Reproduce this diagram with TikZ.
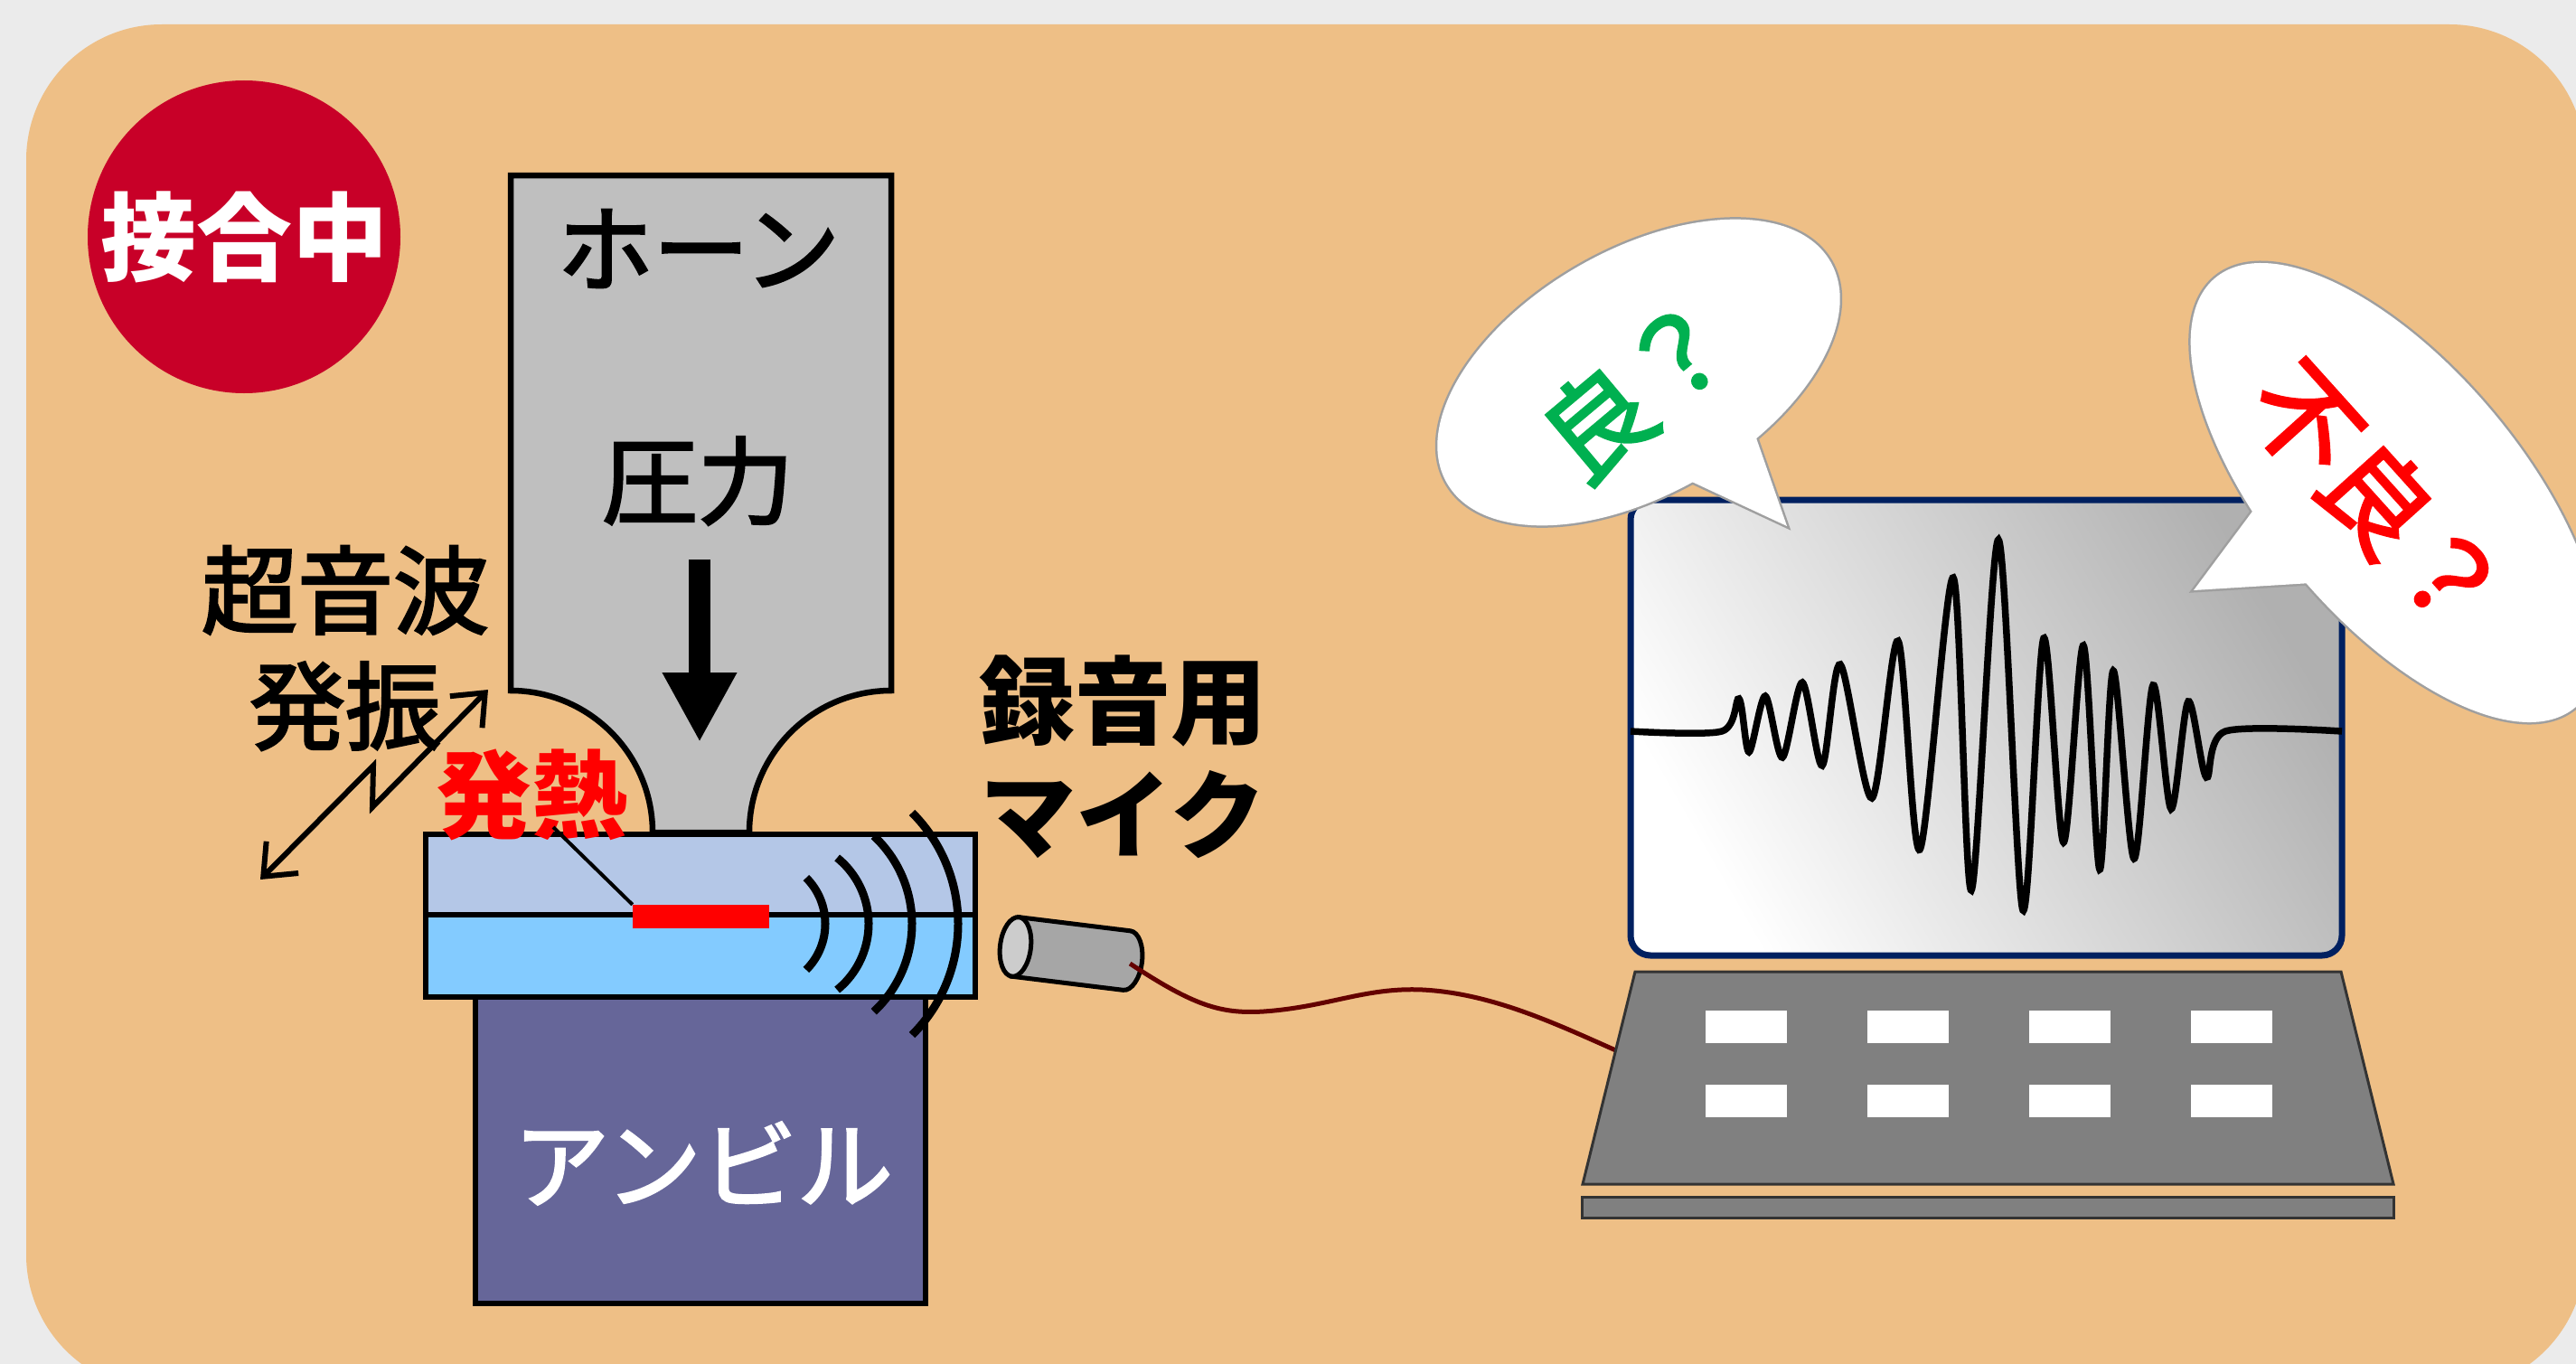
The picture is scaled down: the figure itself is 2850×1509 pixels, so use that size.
\documentclass[tikz,border=0pt]{standalone}
\usepackage{fontspec}
\setmainfont{Noto Sans CJK JP}
\newfontfamily\jpreg{Noto Sans CJK JP}[FakeBold=2.5]
\usetikzlibrary{arrows.meta, calc}
\definecolor{bggray}{RGB}{235,235,235}
\definecolor{panel}{RGB}{238,191,134}
\definecolor{badge}{RGB}{200,0,40}
\definecolor{horngray}{RGB}{191,191,191}
\definecolor{plateup}{RGB}{180,199,231}
\definecolor{platelow}{RGB}{131,203,255}
\definecolor{anvilblue}{RGB}{102,102,153}
\definecolor{navy}{RGB}{0,32,96}
\definecolor{kbgray}{RGB}{128,128,128}
\definecolor{cable}{RGB}{100,0,0}
\definecolor{okgreen}{RGB}{0,176,80}
\tikzset{
lbl/.style={inner sep=0pt, align=center, font=\jpreg\fontsize{106}{128}\selectfont}, % all big labels
boldlbl/.style={inner sep=0pt, align=center, font=\fontsize{106}{126}\selectfont\bfseries},
part/.style={draw=black, line width=6.5pt}, % horn, plates, anvil
soundwave/.style={line width=9pt},
bubble line/.style={draw=gray!75, line width=5pt},
bubble text/.style={inner sep=0pt, font=\jpreg\fontsize{118}{118}\selectfont},
}

\begin{document}
\begin{tikzpicture}[x=1pt, y=-1pt]
\useasboundingbox (0,0) rectangle (2850,1509);
\clip (0,0) rectangle (2850,1509);
\fill[bggray] (0,0) rectangle (2850,1509);
\fill[panel, rounded corners=150pt] (29,27) rectangle (2860,1538);

% badge
\node[boldlbl, circle, fill=badge, minimum size=346pt, text=white] (badge) at (270,262) {接合中};

% horn with its two concave flanks
\filldraw[part, fill=horngray] (565,194) -- (986,194) -- (986,764)
  arc[start angle=-90, end angle=-180, radius=157] -- (722,921)
  arc[start angle=0, end angle=-90, radius=157] -- cycle;
\node[lbl] (horn) at (773,275) {ホーン};
\node[lbl] (force) at (772,532) {圧力};
\coordinate (push top) at (774,619);
\coordinate (push tip) at (774,821);
\draw[line width=24pt, -{Triangle[width=77pt, length=77pt]}] (push top) -- (push tip);

% anvil
\filldraw[part, fill=anvilblue] (526,1103) rectangle (1024,1442);
\node[lbl, text=white] (anvil) at (778,1287) {アンビル};

% the two sheets being joined
\filldraw[part, fill=plateup] (471,923) rectangle (1079,1012);
\filldraw[part, fill=platelow] (471,1012) rectangle (1079,1103);
\node[fill=red, inner sep=0pt, minimum width=151pt, minimum height=26pt] (spot) at (775.5,1014) {};
\node[boldlbl, text=red] (heat) at (588,879) {発熱};
\coordinate (lead) at (612,915);
\draw[line width=4pt] (lead) -- (spot.north west);

% sound spreading out of the joint
\foreach \cx/\r/\a in {841/72/45, 867/94/51, 876/133/47, 886/174/45}
  \draw[soundwave] (\cx,1022) ++(-\a:\r) arc[start angle=-\a, end angle=\a, radius=\r];

% ultrasonic vibration
\node[lbl] (osc) at (382,717) {超音波\\発振};
\coordinate (osc low) at (288,973);
\coordinate (osc high) at (540,763);
\draw[line width=6pt, {Straight Barb[length=30pt, width=50pt]}-{Straight Barb[length=30pt, width=50pt]}]
  (osc low) -- (413,847) -- (412,893) -- (osc high);

% microphone
\node[boldlbl] (miclbl) at (1242,837) {録音用\\マイク};
\begin{scope}[shift={(1185,1055)}, rotate=-7]
  \filldraw[line width=5pt, fill=gray!70] (-62,-33) -- (62,-33)
    arc[start angle=-90, end angle=90, x radius=17, y radius=33] -- (-62,33) -- cycle;
  \filldraw[line width=5pt, fill=gray!40] (-62,0) ellipse[x radius=17, y radius=33];
  \coordinate (mic) at (66,3);
\end{scope}

% laptop
\coordinate (kb nw) at (1809,1075);
\coordinate (kb ne) at (2590,1075);
\coordinate (kb se) at (2648,1310);
\coordinate (kb sw) at (1751,1310);
\coordinate (port) at ($(kb nw)!0.37!(kb sw)$);
\draw[cable, line width=5pt] (mic) .. controls (1320,1112) and (1350,1122) .. (1398,1119)
  .. controls (1470,1114) and (1510,1092) .. (1574,1095)
  .. controls (1650,1099) and (1720,1132) .. (port);

\shade[draw=navy, line width=7pt, rounded corners=22pt, top color=gray!62, bottom color=white,
  shading angle=-60] (1804,553) rectangle (2591,1057);
\draw[line width=7.5pt] plot[smooth, tension=0.5] coordinates {
  (1804,809) (1905,809) (1924,773) (1935,832) (1953,770) (1972,838) (1994,755) (2016,847)
  (2036,735) (2071,883) (2100,709) (2124,940) (2161,639) (2181,985) (2211,597) (2238,1007)
  (2261,706) (2283,932) (2305,714) (2323,962) (2338,742) (2361,950) (2382,758) (2402,895)
  (2421,776) (2441,860) (2462,809) (2591,809)};

\filldraw[fill=kbgray, draw=black!80, line width=3pt] (kb nw) -- (kb ne) -- (kb se) -- (kb sw) -- cycle;
\foreach \i in {0,...,3}
  \foreach \y in {1118,1200}
    \fill[white] (1887+179*\i,\y) rectangle ++(90,36);
\filldraw[fill=kbgray, draw=black!80, line width=3pt] (1750,1324) rectangle (2648,1347);

% speech bubbles: outline first, then white fill on top hides the seams
\draw[bubble line, rotate around={30:(1813,412)}] (1813,412) ellipse[x radius=245, y radius=135];
\draw[bubble line] (1859,527) -- (1977,582) -- (1940,476);
\fill[white, rotate around={30:(1813,412)}] (1813,412) ellipse[x radius=245, y radius=135];
\fill[white] (1859,527) -- (1977,582) -- (1940,476) -- cycle;
\node[bubble text, text=okgreen, rotate=40] (good) at (1812,430) {良？};

\draw[bubble line, rotate around={-50:(2650,545)}] (2650,545) ellipse[x radius=310, y radius=140];
\draw[bubble line] (2500,555) -- (2427,653) -- (2573,644);
\fill[white, rotate around={-50:(2650,545)}] (2650,545) ellipse[x radius=310, y radius=140];
\fill[white] (2500,555) -- (2427,653) -- (2573,644) -- cycle;
\node[bubble text, text=red, rotate=-48] (bad) at (2630,551) {不良？};
\end{tikzpicture}
\end{document}
